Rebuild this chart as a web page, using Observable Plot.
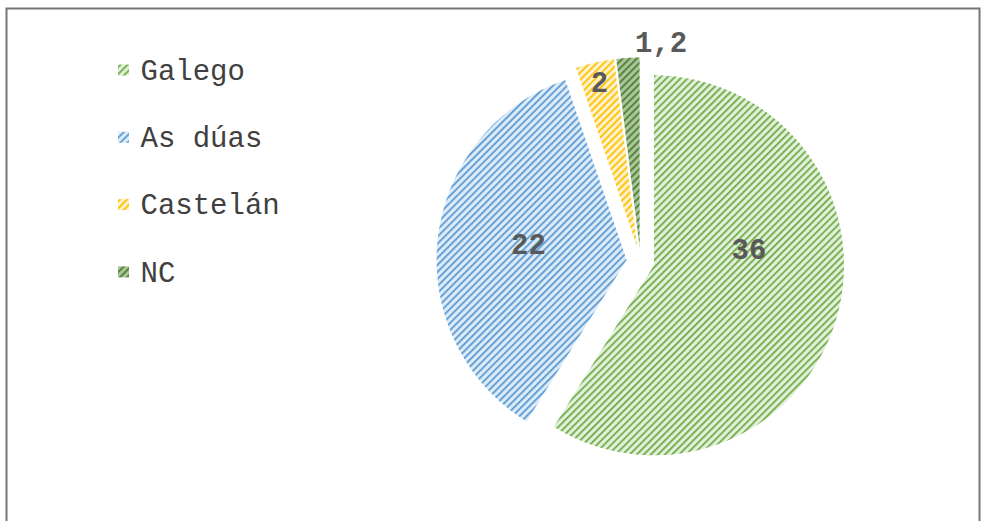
<!DOCTYPE html>
<html><head><meta charset="utf-8">
<script src="https://cdn.jsdelivr.net/npm/d3@7"></script>
<script src="https://cdn.jsdelivr.net/npm/@observablehq/plot@0.6"></script>
<style>html,body{margin:0;padding:0;background:#fff;} #chart svg{display:block;}</style>
</head><body><div id="chart"></div>
<script>
const categories = ["Galego", "As dúas", "Castelán", "NC"];
const values = [36, 22, 2, 1.2];
const valueLabels = ["36", "22", "2", "1,2"];
const bgColors = ["#e2efda", "#ddebf7", "#fff2cc", "#a9c59a"];
const stripeColors = ["#70ad47", "#5b9bd5", "#ffc000", "#507e32"];

const W = 981, H = 521;
const cx = 640, cy = 261, R = 190, explode = 14;
const total = d3.sum(values);
const arcs = d3.pie().sort(null).value(d => d)(values);

const slicePts = [];
const labelData = [];
arcs.forEach((a, i) => {
  const mid = (a.startAngle + a.endAngle) / 2;
  const ox = cx + explode * Math.sin(mid), oy = cy - explode * Math.cos(mid);
  slicePts.push({i, pat: `url(#pat${i})`, x: ox, y: oy});
  const n = Math.max(4, Math.ceil((a.endAngle - a.startAngle) / (Math.PI / 360)));
  for (let k = 0; k <= n; k++) {
    const t = a.startAngle + (a.endAngle - a.startAngle) * k / n;
    slicePts.push({i, pat: `url(#pat${i})`, x: ox + R * Math.sin(t), y: oy - R * Math.cos(t)});
  }
  slicePts.push({i, pat: `url(#pat${i})`, x: ox, y: oy});
  const share = a.value / total;
  if (share > 0.1) {
    // best-fit style: horizontally along the mid-angle, vertically near the pie's middle
    labelData.push({label: valueLabels[i], outside: false,
      x: ox + 0.52 * R * Math.sin(mid), y: oy - 0.08 * R});
  } else {
    const f = share > 0.025 ? 0.89 : 1.08;
    labelData.push({label: valueLabels[i], outside: share <= 0.025,
      x: ox + f * R * Math.sin(mid), y: oy - f * R * Math.cos(mid)});
  }
});

const legendData = categories.map((c, i) => ({c, i, pat: `url(#pat${i})`, y: 70 + i * 67.3}));

function patternDefs() {
  const ns = "http://www.w3.org/2000/svg";
  const defs = document.createElementNS(ns, "defs");
  bgColors.forEach((bg, i) => {
    const p = document.createElementNS(ns, "pattern");
    p.setAttribute("id", "pat" + i);
    p.setAttribute("patternUnits", "userSpaceOnUse");
    p.setAttribute("width", "5");
    p.setAttribute("height", "5");
    p.setAttribute("patternTransform", "rotate(45)");
    const r1 = document.createElementNS(ns, "rect");
    r1.setAttribute("width", "5"); r1.setAttribute("height", "5"); r1.setAttribute("fill", bg);
    const r2 = document.createElementNS(ns, "rect");
    r2.setAttribute("width", "1.8"); r2.setAttribute("height", "5"); r2.setAttribute("fill", stripeColors[i]);
    p.appendChild(r1); p.appendChild(r2);
    defs.appendChild(p);
  });
  return defs;
}

const monoFont = "'Liberation Mono','Courier New',monospace";

const chart = Plot.plot({
  width: W, height: H,
  margin: 0,
  x: {type: "identity", axis: null},
  y: {type: "identity", axis: null},
  color: {type: "identity"},
  marks: [
    patternDefs,
    Plot.frame({stroke: "#767676", strokeWidth: 2, insetLeft: 6, insetTop: 8, insetRight: 2, insetBottom: -30}),
    Plot.line(slicePts, {x: "x", y: "y", z: "i", fill: "pat", stroke: "none", curve: "linear"}),
    Plot.text(labelData.filter(d => !d.outside), {x: "x", y: "y", text: "label", fontFamily: monoFont, fontWeight: "bold", fontSize: 29, fill: "#595959", textAnchor: "middle"}),
    Plot.text(labelData.filter(d => d.outside), {x: "x", y: "y", text: "label", fontFamily: monoFont, fontWeight: "bold", fontSize: 29, fill: "#595959", textAnchor: "start", dx: 8}),
    Plot.rect(legendData, {x1: 118, x2: 129, y1: d => d.y - 5.5, y2: d => d.y + 5.5, fill: "pat"}),
    Plot.text(legendData, {x: 140, y: "y", text: "c", textAnchor: "start", fontFamily: monoFont, fontSize: 29, fill: "#404040"})
  ]
});
document.getElementById("chart").appendChild(chart);
</script>
</body></html>
